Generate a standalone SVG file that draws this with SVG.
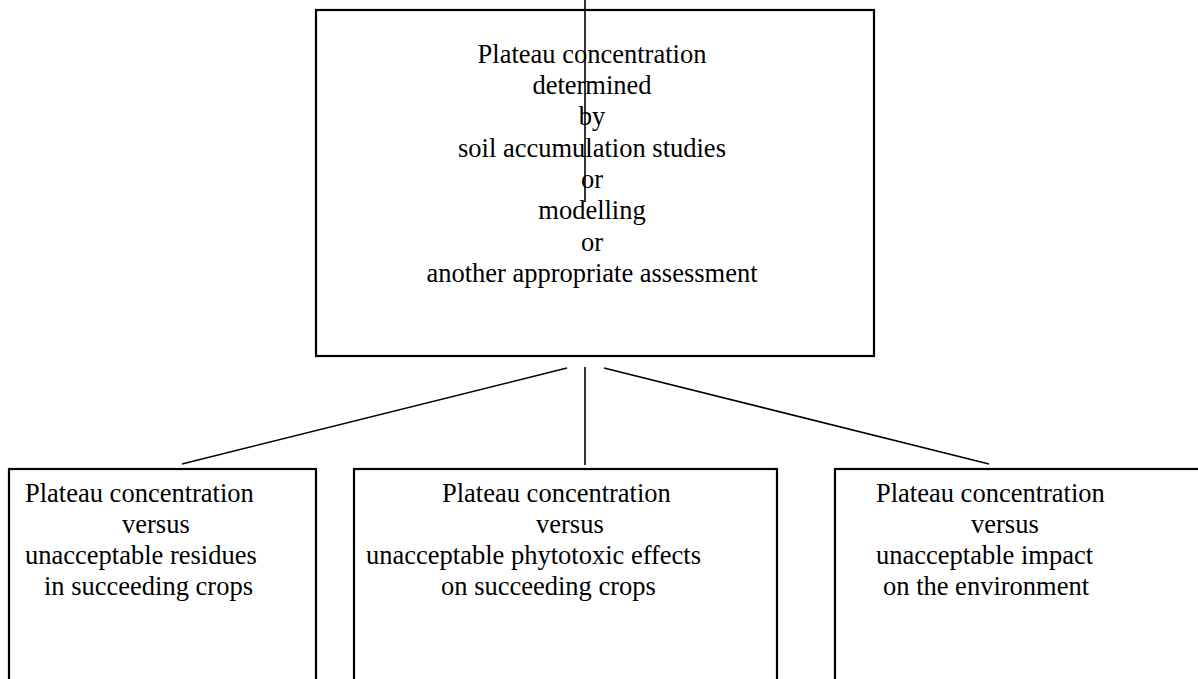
<svg xmlns="http://www.w3.org/2000/svg" width="1198" height="679" viewBox="0 0 1198 679">
<style>
.box{fill:none;stroke:#000;stroke-width:2.2}
.t{font-family:"Liberation Serif","Times New Roman",serif;font-size:26.5px;fill:#000}
.c{text-anchor:middle}
.ln{stroke:#000;stroke-width:1.6;fill:none}
</style>
<rect x="0" y="0" width="1198" height="679" fill="#fff"/>
<g id="top">
<rect class="box" x="316" y="10" width="558" height="346"/>
<text class="t c" x="592" y="63">Plateau concentration</text>
<text class="t c" x="592" y="94">determined</text>
<text class="t c" x="592" y="125">by</text>
<text class="t c" x="592" y="157">soil accumulation studies</text>
<text class="t c" x="592" y="188">or</text>
<text class="t c" x="592" y="219">modelling</text>
<text class="t c" x="592" y="251">or</text>
<text class="t c" x="592" y="282">another appropriate assessment</text>
</g>
<g id="residues">
<rect class="box" x="9" y="469" width="307" height="240"/>
<text class="t" x="25" y="502">Plateau concentration</text>
<text class="t" x="122" y="533">versus</text>
<text class="t" x="25" y="564">unacceptable residues</text>
<text class="t" x="44" y="595">in succeeding crops</text>
</g>
<g id="phytotoxic">
<rect class="box" x="354" y="469" width="423" height="240"/>
<text class="t" x="442" y="502">Plateau concentration</text>
<text class="t" x="536" y="533">versus</text>
<text class="t" x="366" y="564">unacceptable phytotoxic effects</text>
<text class="t" x="441" y="595">on succeeding crops</text>
</g>
<g id="environment">
<rect class="box" x="835" y="469" width="400" height="240"/>
<text class="t" x="876" y="502">Plateau concentration</text>
<text class="t" x="971" y="533">versus</text>
<text class="t" x="876" y="564">unacceptable impact</text>
<text class="t" x="883" y="595">on the environment</text>
</g>
<g id="connectors">
<line class="ln" x1="585" y1="0" x2="585" y2="202"/>
<line class="ln" x1="567" y1="368" x2="182" y2="464"/>
<line class="ln" x1="585" y1="367" x2="585" y2="465"/>
<line class="ln" x1="604" y1="368" x2="989" y2="464"/>
</g>
</svg>
